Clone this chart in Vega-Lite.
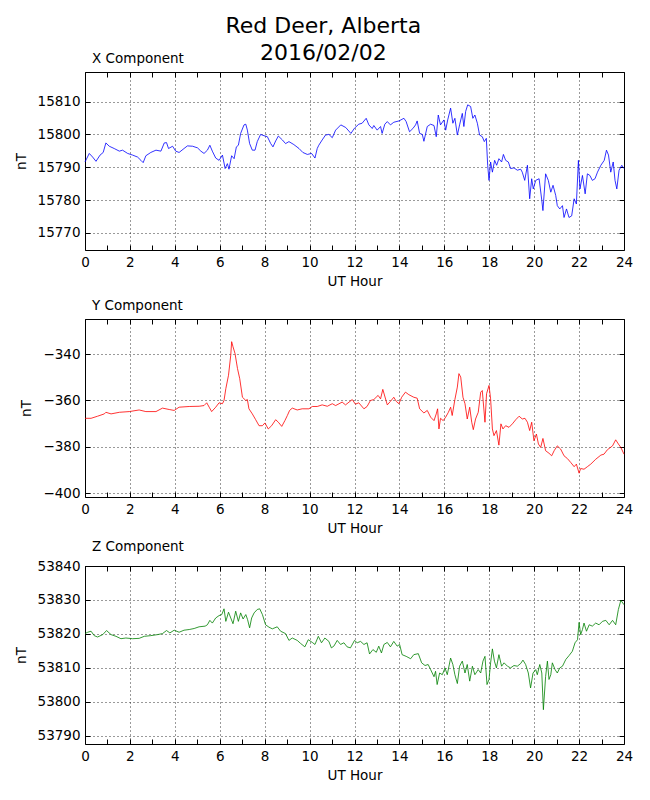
{
  "$schema": "https://vega.github.io/schema/vega-lite/v6.json",
  "padding": {"left": 13, "top": 14, "right": 10, "bottom": 5},
  "background": "white",
  "title": {
    "text": ["Red Deer, Alberta", "2016/02/02"],
    "fontSize": 22,
    "fontWeight": "normal",
    "lineHeight": 27,
    "anchor": "middle",
    "offset": -13
  },
  "datasets": {
    "bx": [
      {"h": 0, "v": 15791.6}, {"h": 0.19, "v": 15794.2}, {"h": 0.34, "v": 15793.1}, {"h": 0.49, "v": 15791.8},
      {"h": 0.67, "v": 15793.7}, {"h": 0.81, "v": 15794.5}, {"h": 0.93, "v": 15797.4}, {"h": 1.08, "v": 15796.4},
      {"h": 1.3, "v": 15795.7}, {"h": 1.53, "v": 15794.9}, {"h": 1.67, "v": 15795.2}, {"h": 1.9, "v": 15794.2},
      {"h": 2.12, "v": 15793.7}, {"h": 2.34, "v": 15793.1}, {"h": 2.49, "v": 15792.1}, {"h": 2.59, "v": 15791.4},
      {"h": 2.71, "v": 15793.5}, {"h": 2.93, "v": 15794.5}, {"h": 3.16, "v": 15795.2}, {"h": 3.38, "v": 15794.9},
      {"h": 3.53, "v": 15797.4}, {"h": 3.63, "v": 15797.5}, {"h": 3.72, "v": 15795.7}, {"h": 3.9, "v": 15796.4},
      {"h": 4.04, "v": 15794.9}, {"h": 4.19, "v": 15794.5}, {"h": 4.41, "v": 15795.7}, {"h": 4.56, "v": 15796.5},
      {"h": 4.79, "v": 15796.4}, {"h": 5.01, "v": 15795.9}, {"h": 5.16, "v": 15794.9}, {"h": 5.3, "v": 15794.2},
      {"h": 5.45, "v": 15795.2}, {"h": 5.56, "v": 15796.7}, {"h": 5.67, "v": 15794.9}, {"h": 5.82, "v": 15792.8},
      {"h": 5.97, "v": 15792.1}, {"h": 6.12, "v": 15793.7}, {"h": 6.24, "v": 15789.6}, {"h": 6.34, "v": 15791.1},
      {"h": 6.41, "v": 15789.4}, {"h": 6.53, "v": 15793.5}, {"h": 6.64, "v": 15792.6}, {"h": 6.74, "v": 15796.2},
      {"h": 6.83, "v": 15796.7}, {"h": 6.93, "v": 15800.3}, {"h": 7.08, "v": 15802.9}, {"h": 7.16, "v": 15803.1},
      {"h": 7.23, "v": 15801.3}, {"h": 7.33, "v": 15797.2}, {"h": 7.45, "v": 15795.2}, {"h": 7.57, "v": 15795.2},
      {"h": 7.67, "v": 15797.8}, {"h": 7.82, "v": 15800}, {"h": 7.97, "v": 15799.6}, {"h": 8.12, "v": 15799.3},
      {"h": 8.27, "v": 15797.2}, {"h": 8.37, "v": 15796.2}, {"h": 8.49, "v": 15798}, {"h": 8.61, "v": 15799.5},
      {"h": 8.79, "v": 15798.3}, {"h": 8.93, "v": 15797.2}, {"h": 9.08, "v": 15797.8}, {"h": 9.3, "v": 15796.9},
      {"h": 9.53, "v": 15795.7}, {"h": 9.7, "v": 15794.5}, {"h": 9.9, "v": 15793.9}, {"h": 10.09, "v": 15794.2},
      {"h": 10.24, "v": 15792.8}, {"h": 10.34, "v": 15795.7}, {"h": 10.41, "v": 15796.7}, {"h": 10.56, "v": 15798.3},
      {"h": 10.71, "v": 15799.8}, {"h": 10.86, "v": 15800}, {"h": 11.01, "v": 15799}, {"h": 11.16, "v": 15801.3},
      {"h": 11.39, "v": 15802.9}, {"h": 11.61, "v": 15802.1}, {"h": 11.84, "v": 15800.3}, {"h": 12.0, "v": 15801.9},
      {"h": 12.19, "v": 15803.1}, {"h": 12.34, "v": 15803.4}, {"h": 12.52, "v": 15804.9}, {"h": 12.64, "v": 15802.9},
      {"h": 12.79, "v": 15801.8}, {"h": 12.86, "v": 15802.7}, {"h": 13.01, "v": 15801.3}, {"h": 13.16, "v": 15802.4},
      {"h": 13.23, "v": 15800.3}, {"h": 13.35, "v": 15803.1}, {"h": 13.46, "v": 15803.9}, {"h": 13.6, "v": 15802.9},
      {"h": 13.75, "v": 15803.7}, {"h": 13.98, "v": 15804.1}, {"h": 14.2, "v": 15804.9}, {"h": 14.3, "v": 15803.9},
      {"h": 14.45, "v": 15800.8}, {"h": 14.6, "v": 15801.8}, {"h": 14.72, "v": 15802.9}, {"h": 14.79, "v": 15804.1},
      {"h": 14.9, "v": 15800.3}, {"h": 15.02, "v": 15800}, {"h": 15.09, "v": 15797.9}, {"h": 15.24, "v": 15802.4},
      {"h": 15.39, "v": 15803.1}, {"h": 15.54, "v": 15802.7}, {"h": 15.64, "v": 15799.3}, {"h": 15.73, "v": 15805.9},
      {"h": 15.83, "v": 15802.9}, {"h": 15.98, "v": 15804.4}, {"h": 16.06, "v": 15801.3}, {"h": 16.15, "v": 15804.4},
      {"h": 16.28, "v": 15808}, {"h": 16.38, "v": 15803.4}, {"h": 16.47, "v": 15804.9}, {"h": 16.58, "v": 15799.8},
      {"h": 16.68, "v": 15802.9}, {"h": 16.8, "v": 15806.4}, {"h": 16.87, "v": 15802.4}, {"h": 16.95, "v": 15807},
      {"h": 17.04, "v": 15809}, {"h": 17.17, "v": 15808.5}, {"h": 17.27, "v": 15804.9}, {"h": 17.36, "v": 15805.9},
      {"h": 17.47, "v": 15803.4}, {"h": 17.57, "v": 15799.8}, {"h": 17.69, "v": 15799.3}, {"h": 17.78, "v": 15797.8},
      {"h": 17.87, "v": 15798.8}, {"h": 17.93, "v": 15790.6}, {"h": 17.99, "v": 15786}, {"h": 18.06, "v": 15791.6},
      {"h": 18.14, "v": 15788.5}, {"h": 18.24, "v": 15792.1}, {"h": 18.33, "v": 15790.6}, {"h": 18.43, "v": 15792.6},
      {"h": 18.55, "v": 15791.6}, {"h": 18.63, "v": 15793.9}, {"h": 18.73, "v": 15792.1}, {"h": 18.85, "v": 15791.6},
      {"h": 18.95, "v": 15789.6}, {"h": 19.1, "v": 15789.8}, {"h": 19.25, "v": 15789.1}, {"h": 19.4, "v": 15789.4},
      {"h": 19.47, "v": 15788.5}, {"h": 19.58, "v": 15786}, {"h": 19.7, "v": 15790.6}, {"h": 19.8, "v": 15780.4},
      {"h": 19.89, "v": 15786.5}, {"h": 19.96, "v": 15783.4}, {"h": 20.07, "v": 15786}, {"h": 20.22, "v": 15786.5},
      {"h": 20.34, "v": 15779.9}, {"h": 20.39, "v": 15776.8}, {"h": 20.51, "v": 15788}, {"h": 20.63, "v": 15786},
      {"h": 20.74, "v": 15782.4}, {"h": 20.84, "v": 15784.5}, {"h": 20.96, "v": 15781.4}, {"h": 21.03, "v": 15778.3},
      {"h": 21.14, "v": 15777.3}, {"h": 21.26, "v": 15778.3}, {"h": 21.33, "v": 15774.7}, {"h": 21.44, "v": 15777.3},
      {"h": 21.55, "v": 15774.7}, {"h": 21.67, "v": 15775.2}, {"h": 21.78, "v": 15780.4}, {"h": 21.88, "v": 15778.8},
      {"h": 21.97, "v": 15792.1}, {"h": 22.04, "v": 15783.4}, {"h": 22.15, "v": 15787.5}, {"h": 22.27, "v": 15781.9},
      {"h": 22.37, "v": 15788}, {"h": 22.48, "v": 15787.5}, {"h": 22.59, "v": 15786}, {"h": 22.71, "v": 15786.5},
      {"h": 22.82, "v": 15788.5}, {"h": 22.97, "v": 15790.6}, {"h": 23.12, "v": 15792.1}, {"h": 23.22, "v": 15795.2},
      {"h": 23.31, "v": 15793.7}, {"h": 23.41, "v": 15788.5}, {"h": 23.52, "v": 15791.6}, {"h": 23.6, "v": 15786},
      {"h": 23.68, "v": 15783.4}, {"h": 23.78, "v": 15789.1}, {"h": 23.9, "v": 15790.6}, {"h": 24.0, "v": 15789.6}
    ],
    "by": [
      {"h": 0, "v": -367.7}, {"h": 0.27, "v": -367.7}, {"h": 0.56, "v": -366.8}, {"h": 0.86, "v": -365.8},
      {"h": 0.93, "v": -365.1}, {"h": 1.16, "v": -365.8}, {"h": 1.53, "v": -365.1}, {"h": 1.97, "v": -364.8},
      {"h": 2.41, "v": -364.1}, {"h": 2.71, "v": -364.8}, {"h": 3.16, "v": -364.8}, {"h": 3.45, "v": -363.3},
      {"h": 3.75, "v": -363.9}, {"h": 3.97, "v": -364.3}, {"h": 4.19, "v": -362.9}, {"h": 4.64, "v": -362.6},
      {"h": 5.08, "v": -362.5}, {"h": 5.3, "v": -362.2}, {"h": 5.42, "v": -361}, {"h": 5.53, "v": -362.9},
      {"h": 5.64, "v": -364.8}, {"h": 5.82, "v": -362.9}, {"h": 5.97, "v": -361}, {"h": 6.12, "v": -361.4},
      {"h": 6.19, "v": -360}, {"h": 6.27, "v": -354.9}, {"h": 6.39, "v": -349.1}, {"h": 6.49, "v": -340.4},
      {"h": 6.53, "v": -334.6}, {"h": 6.59, "v": -336.8}, {"h": 6.68, "v": -339.7}, {"h": 6.79, "v": -346.2},
      {"h": 6.89, "v": -350.6}, {"h": 7.01, "v": -358.6}, {"h": 7.16, "v": -360}, {"h": 7.23, "v": -359.6},
      {"h": 7.3, "v": -363.6}, {"h": 7.45, "v": -365.8}, {"h": 7.6, "v": -368.3}, {"h": 7.75, "v": -370.9},
      {"h": 7.9, "v": -370.9}, {"h": 8.01, "v": -369.7}, {"h": 8.16, "v": -372.3}, {"h": 8.31, "v": -370.9},
      {"h": 8.49, "v": -368.3}, {"h": 8.61, "v": -369.4}, {"h": 8.76, "v": -371.2}, {"h": 8.9, "v": -368.7},
      {"h": 9.01, "v": -366.5}, {"h": 9.11, "v": -364.3}, {"h": 9.23, "v": -363.3}, {"h": 9.45, "v": -364.1},
      {"h": 9.67, "v": -363.6}, {"h": 9.97, "v": -363.6}, {"h": 10.12, "v": -362.6}, {"h": 10.34, "v": -362.6},
      {"h": 10.56, "v": -361.9}, {"h": 10.79, "v": -362.5}, {"h": 11.01, "v": -361.4}, {"h": 11.16, "v": -362.2},
      {"h": 11.45, "v": -360.7}, {"h": 11.6, "v": -361.9}, {"h": 11.9, "v": -359.6}, {"h": 12.04, "v": -361.6},
      {"h": 12.19, "v": -361}, {"h": 12.42, "v": -363.6}, {"h": 12.56, "v": -362.6}, {"h": 12.71, "v": -360},
      {"h": 12.86, "v": -359.6}, {"h": 13.05, "v": -357.8}, {"h": 13.16, "v": -359.3}, {"h": 13.26, "v": -355.2},
      {"h": 13.46, "v": -361.9}, {"h": 13.6, "v": -360.4}, {"h": 13.75, "v": -358.6}, {"h": 13.86, "v": -360.4},
      {"h": 13.98, "v": -361.4}, {"h": 14.1, "v": -358.6}, {"h": 14.27, "v": -356.4}, {"h": 14.42, "v": -357.5},
      {"h": 14.64, "v": -358.6}, {"h": 14.79, "v": -359}, {"h": 14.9, "v": -363.6}, {"h": 15.09, "v": -365.4},
      {"h": 15.24, "v": -364.3}, {"h": 15.39, "v": -367.2}, {"h": 15.54, "v": -368.7}, {"h": 15.64, "v": -365.8},
      {"h": 15.7, "v": -363.6}, {"h": 15.76, "v": -372.3}, {"h": 15.83, "v": -367.7}, {"h": 15.95, "v": -368.7},
      {"h": 16.06, "v": -367.2}, {"h": 16.18, "v": -365.1}, {"h": 16.28, "v": -362.9}, {"h": 16.35, "v": -366.5},
      {"h": 16.47, "v": -359.6}, {"h": 16.58, "v": -354.2}, {"h": 16.65, "v": -348.4}, {"h": 16.73, "v": -349.9},
      {"h": 16.83, "v": -358.6}, {"h": 16.92, "v": -361.4}, {"h": 17.02, "v": -368}, {"h": 17.13, "v": -362.9},
      {"h": 17.22, "v": -369.4}, {"h": 17.29, "v": -372.6}, {"h": 17.39, "v": -368}, {"h": 17.51, "v": -365.1},
      {"h": 17.62, "v": -356.4}, {"h": 17.69, "v": -355.7}, {"h": 17.81, "v": -369.4}, {"h": 17.88, "v": -357.1},
      {"h": 17.99, "v": -353.5}, {"h": 18.06, "v": -359.3}, {"h": 18.14, "v": -372.3}, {"h": 18.21, "v": -375.2},
      {"h": 18.32, "v": -373}, {"h": 18.43, "v": -379.3}, {"h": 18.52, "v": -370.1}, {"h": 18.61, "v": -372.3},
      {"h": 18.73, "v": -370.9}, {"h": 18.88, "v": -371.6}, {"h": 19.03, "v": -370.1}, {"h": 19.18, "v": -368.3},
      {"h": 19.33, "v": -366.8}, {"h": 19.47, "v": -368}, {"h": 19.59, "v": -367.7}, {"h": 19.7, "v": -369.4},
      {"h": 19.8, "v": -373}, {"h": 19.89, "v": -369.4}, {"h": 19.99, "v": -377.4}, {"h": 20.1, "v": -374.5},
      {"h": 20.19, "v": -378.8}, {"h": 20.29, "v": -380.3}, {"h": 20.39, "v": -376.4}, {"h": 20.51, "v": -381.7},
      {"h": 20.66, "v": -382.8}, {"h": 20.78, "v": -383.9}, {"h": 20.89, "v": -381.7}, {"h": 21.03, "v": -379.6},
      {"h": 21.18, "v": -381}, {"h": 21.33, "v": -383.9}, {"h": 21.48, "v": -385.1}, {"h": 21.63, "v": -386.8},
      {"h": 21.78, "v": -388.6}, {"h": 21.88, "v": -387.5}, {"h": 22.0, "v": -391.4}, {"h": 22.07, "v": -389.4},
      {"h": 22.22, "v": -389.7}, {"h": 22.37, "v": -388.6}, {"h": 22.52, "v": -387.5}, {"h": 22.74, "v": -385.4},
      {"h": 22.97, "v": -383.6}, {"h": 23.11, "v": -383.2}, {"h": 23.26, "v": -381.3}, {"h": 23.49, "v": -379.6},
      {"h": 23.63, "v": -377}, {"h": 23.75, "v": -378.8}, {"h": 23.86, "v": -380.3}, {"h": 24.0, "v": -383.2}
    ],
    "bz": [
      {"h": 0, "v": 53820.1}, {"h": 0.12, "v": 53820.5}, {"h": 0.27, "v": 53820.8}, {"h": 0.41, "v": 53819.5},
      {"h": 0.56, "v": 53819.1}, {"h": 0.79, "v": 53819.8}, {"h": 0.96, "v": 53821}, {"h": 1.16, "v": 53819.8},
      {"h": 1.38, "v": 53819.3}, {"h": 1.6, "v": 53818.6}, {"h": 1.82, "v": 53818.8}, {"h": 2.12, "v": 53818.6},
      {"h": 2.41, "v": 53818.7}, {"h": 2.64, "v": 53819.3}, {"h": 2.93, "v": 53819.5}, {"h": 3.23, "v": 53819.8},
      {"h": 3.45, "v": 53820.1}, {"h": 3.63, "v": 53821}, {"h": 3.78, "v": 53820.3}, {"h": 3.97, "v": 53821.1},
      {"h": 4.19, "v": 53820.5}, {"h": 4.41, "v": 53821.1}, {"h": 4.64, "v": 53821.3}, {"h": 4.86, "v": 53821.6},
      {"h": 5.08, "v": 53822.1}, {"h": 5.35, "v": 53822.3}, {"h": 5.45, "v": 53822.7}, {"h": 5.56, "v": 53824},
      {"h": 5.67, "v": 53823.2}, {"h": 5.82, "v": 53824.7}, {"h": 5.97, "v": 53825.4}, {"h": 6.09, "v": 53825.7},
      {"h": 6.19, "v": 53827.4}, {"h": 6.27, "v": 53823.7}, {"h": 6.39, "v": 53826.4}, {"h": 6.49, "v": 53824.7},
      {"h": 6.59, "v": 53823}, {"h": 6.71, "v": 53826.7}, {"h": 6.83, "v": 53823.7}, {"h": 6.93, "v": 53826.2},
      {"h": 7.04, "v": 53824.4}, {"h": 7.16, "v": 53825.7}, {"h": 7.24, "v": 53824.2}, {"h": 7.33, "v": 53821.8},
      {"h": 7.42, "v": 53824.7}, {"h": 7.53, "v": 53826.2}, {"h": 7.67, "v": 53827.2}, {"h": 7.78, "v": 53827.4},
      {"h": 7.9, "v": 53825.7}, {"h": 8.04, "v": 53822.7}, {"h": 8.19, "v": 53822}, {"h": 8.34, "v": 53821.5},
      {"h": 8.56, "v": 53822.1}, {"h": 8.71, "v": 53820.8}, {"h": 8.93, "v": 53820.1}, {"h": 9.08, "v": 53818.1},
      {"h": 9.23, "v": 53818.8}, {"h": 9.45, "v": 53818.1}, {"h": 9.6, "v": 53817.2}, {"h": 9.79, "v": 53816.2},
      {"h": 9.94, "v": 53818.3}, {"h": 10.12, "v": 53817.5}, {"h": 10.24, "v": 53816.9}, {"h": 10.39, "v": 53819.3},
      {"h": 10.53, "v": 53817.4}, {"h": 10.68, "v": 53818.8}, {"h": 10.86, "v": 53817.8}, {"h": 10.97, "v": 53815.9},
      {"h": 11.08, "v": 53816.4}, {"h": 11.23, "v": 53818.1}, {"h": 11.38, "v": 53816.9}, {"h": 11.53, "v": 53817.4},
      {"h": 11.67, "v": 53816.2}, {"h": 11.82, "v": 53815.9}, {"h": 12.0, "v": 53818.1}, {"h": 12.12, "v": 53817.4},
      {"h": 12.27, "v": 53817.8}, {"h": 12.42, "v": 53816.9}, {"h": 12.56, "v": 53817.4}, {"h": 12.67, "v": 53814.1},
      {"h": 12.82, "v": 53815.4}, {"h": 12.97, "v": 53814.6}, {"h": 13.08, "v": 53816.4}, {"h": 13.2, "v": 53814.4},
      {"h": 13.31, "v": 53816.9}, {"h": 13.46, "v": 53817.5}, {"h": 13.6, "v": 53816.2}, {"h": 13.75, "v": 53817.8},
      {"h": 13.9, "v": 53816.4}, {"h": 14.01, "v": 53816.9}, {"h": 14.12, "v": 53813.9}, {"h": 14.3, "v": 53813.4},
      {"h": 14.5, "v": 53812.7}, {"h": 14.64, "v": 53813.9}, {"h": 14.84, "v": 53814.2}, {"h": 14.99, "v": 53811.5},
      {"h": 15.14, "v": 53810.7}, {"h": 15.28, "v": 53811}, {"h": 15.39, "v": 53809.5}, {"h": 15.54, "v": 53807.4},
      {"h": 15.61, "v": 53809}, {"h": 15.68, "v": 53805.1}, {"h": 15.79, "v": 53808.5}, {"h": 15.91, "v": 53808},
      {"h": 16.03, "v": 53810}, {"h": 16.13, "v": 53808}, {"h": 16.28, "v": 53812.9}, {"h": 16.38, "v": 53811},
      {"h": 16.47, "v": 53808}, {"h": 16.58, "v": 53805.4}, {"h": 16.68, "v": 53810.5}, {"h": 16.8, "v": 53812},
      {"h": 16.92, "v": 53808.5}, {"h": 17.02, "v": 53811}, {"h": 17.13, "v": 53806.1}, {"h": 17.25, "v": 53810.5},
      {"h": 17.36, "v": 53808}, {"h": 17.51, "v": 53809.5}, {"h": 17.62, "v": 53808.5}, {"h": 17.72, "v": 53812},
      {"h": 17.81, "v": 53813.4}, {"h": 17.9, "v": 53805.1}, {"h": 17.99, "v": 53806.6}, {"h": 18.06, "v": 53811.5},
      {"h": 18.14, "v": 53815.6}, {"h": 18.23, "v": 53812}, {"h": 18.32, "v": 53810}, {"h": 18.43, "v": 53813.9},
      {"h": 18.55, "v": 53810.5}, {"h": 18.66, "v": 53811.5}, {"h": 18.81, "v": 53810.5}, {"h": 18.95, "v": 53810},
      {"h": 19.1, "v": 53810.7}, {"h": 19.25, "v": 53810.5}, {"h": 19.4, "v": 53811.3}, {"h": 19.5, "v": 53812.3},
      {"h": 19.62, "v": 53811}, {"h": 19.74, "v": 53808.5}, {"h": 19.84, "v": 53804.1}, {"h": 19.95, "v": 53808.5},
      {"h": 20.07, "v": 53809.5}, {"h": 20.14, "v": 53808}, {"h": 20.25, "v": 53811}, {"h": 20.34, "v": 53808.5},
      {"h": 20.41, "v": 53797.7}, {"h": 20.51, "v": 53807.5}, {"h": 20.59, "v": 53812}, {"h": 20.66, "v": 53806.6},
      {"h": 20.74, "v": 53808}, {"h": 20.81, "v": 53811.5}, {"h": 20.93, "v": 53809.5}, {"h": 21.03, "v": 53808.5},
      {"h": 21.14, "v": 53810}, {"h": 21.26, "v": 53810.5}, {"h": 21.41, "v": 53812.5}, {"h": 21.55, "v": 53813.6},
      {"h": 21.7, "v": 53814.9}, {"h": 21.82, "v": 53817.4}, {"h": 21.93, "v": 53818.3}, {"h": 22.0, "v": 53823.4},
      {"h": 22.07, "v": 53819.8}, {"h": 22.15, "v": 53821.3}, {"h": 22.22, "v": 53823.2}, {"h": 22.33, "v": 53820.8},
      {"h": 22.45, "v": 53822.7}, {"h": 22.59, "v": 53822.3}, {"h": 22.74, "v": 53823.2}, {"h": 22.89, "v": 53822.7},
      {"h": 23.04, "v": 53823.7}, {"h": 23.19, "v": 53824}, {"h": 23.34, "v": 53822.7}, {"h": 23.49, "v": 53824},
      {"h": 23.63, "v": 53822.7}, {"h": 23.75, "v": 53827.2}, {"h": 23.86, "v": 53829.9}, {"h": 24.0, "v": 53828.6}
    ]
  },
  "vconcat": [
    {
      "title": {"text": "X Component", "anchor": "start", "frame": "group", "fontSize": 13.5, "fontWeight": "normal", "dx": 7, "offset": 6},
      "width": 539,
      "height": 178,
      "data": {"name": "bx"},
      "layer": [
        {
          "mark": {"type": "line", "color": "#0000ff", "strokeWidth": 0.8},
          "encoding": {
            "x": {"field": "h", "type": "quantitative", "scale": {"domain": [0, 24], "nice": false},
              "axis": {"title": "UT Hour", "values": [0,1,2,3,4,5,6,7,8,9,10,11,12,13,14,15,16,17,18,19,20,21,22,23,24],
                "labelExpr": "datum.value % 2 == 0 ? datum.label : ''",
                "gridOpacity": {"condition": {"test": "datum.value % 2 == 1", "value": 0}, "value": 1}}},
            "y": {"field": "v", "type": "quantitative", "scale": {"domain": [15764.8, 15819], "nice": false, "zero": false},
              "axis": {"title": "nT", "values": [15770, 15780, 15790, 15800, 15810], "format": "d"}}
          }
        },
        {
          "mark": {"type": "line", "strokeOpacity": 0},
          "encoding": {
            "x": {"field": "h", "type": "quantitative", "scale": {"domain": [0, 24], "nice": false},
              "axis": {"orient": "top", "title": null, "labels": false, "grid": false, "values": [0,1,2,3,4,5,6,7,8,9,10,11,12,13,14,15,16,17,18,19,20,21,22,23,24]}},
            "y": {"field": "v", "type": "quantitative", "scale": {"domain": [15764.8, 15819], "nice": false, "zero": false},
              "axis": {"orient": "right", "title": null, "labels": false, "grid": false, "values": [15770, 15780, 15790, 15800, 15810]}}
          }
        }
      ],
      "resolve": {"axis": {"x": "independent", "y": "independent"}}
    },
    {
      "title": {"text": "Y Component", "anchor": "start", "frame": "group", "fontSize": 13.5, "fontWeight": "normal", "dx": 7, "offset": 6},
      "width": 539,
      "height": 178,
      "data": {"name": "by"},
      "layer": [
        {
          "mark": {"type": "line", "color": "#ff0000", "strokeWidth": 0.8},
          "encoding": {
            "x": {"field": "h", "type": "quantitative", "scale": {"domain": [0, 24], "nice": false},
              "axis": {"title": "UT Hour", "values": [0,1,2,3,4,5,6,7,8,9,10,11,12,13,14,15,16,17,18,19,20,21,22,23,24],
                "labelExpr": "datum.value % 2 == 0 ? datum.label : ''",
                "gridOpacity": {"condition": {"test": "datum.value % 2 == 1", "value": 0}, "value": 1}}},
            "y": {"field": "v", "type": "quantitative", "scale": {"domain": [-401.7, -324.8], "nice": false, "zero": false},
              "axis": {"title": "nT", "values": [-400, -380, -360, -340], "format": "d"}}
          }
        },
        {
          "mark": {"type": "line", "strokeOpacity": 0},
          "encoding": {
            "x": {"field": "h", "type": "quantitative", "scale": {"domain": [0, 24], "nice": false},
              "axis": {"orient": "top", "title": null, "labels": false, "grid": false, "values": [0,1,2,3,4,5,6,7,8,9,10,11,12,13,14,15,16,17,18,19,20,21,22,23,24]}},
            "y": {"field": "v", "type": "quantitative", "scale": {"domain": [-401.7, -324.8], "nice": false, "zero": false},
              "axis": {"orient": "right", "title": null, "labels": false, "grid": false, "values": [-400, -380, -360, -340]}}
          }
        }
      ],
      "resolve": {"axis": {"x": "independent", "y": "independent"}}
    },
    {
      "title": {"text": "Z Component", "anchor": "start", "frame": "group", "fontSize": 13.5, "fontWeight": "normal", "dx": 7, "offset": 6},
      "width": 539,
      "height": 178,
      "data": {"name": "bz"},
      "layer": [
        {
          "mark": {"type": "line", "color": "#008000", "strokeWidth": 0.8},
          "encoding": {
            "x": {"field": "h", "type": "quantitative", "scale": {"domain": [0, 24], "nice": false},
              "axis": {"title": "UT Hour", "values": [0,1,2,3,4,5,6,7,8,9,10,11,12,13,14,15,16,17,18,19,20,21,22,23,24],
                "labelExpr": "datum.value % 2 == 0 ? datum.label : ''",
                "gridOpacity": {"condition": {"test": "datum.value % 2 == 1", "value": 0}, "value": 1}}},
            "y": {"field": "v", "type": "quantitative", "scale": {"domain": [53787.6, 53840], "nice": false, "zero": false},
              "axis": {"title": "nT", "values": [53790, 53800, 53810, 53820, 53830, 53840], "format": "d"}}
          }
        },
        {
          "mark": {"type": "line", "strokeOpacity": 0},
          "encoding": {
            "x": {"field": "h", "type": "quantitative", "scale": {"domain": [0, 24], "nice": false},
              "axis": {"orient": "top", "title": null, "labels": false, "grid": false, "values": [0,1,2,3,4,5,6,7,8,9,10,11,12,13,14,15,16,17,18,19,20,21,22,23,24]}},
            "y": {"field": "v", "type": "quantitative", "scale": {"domain": [53787.6, 53840], "nice": false, "zero": false},
              "axis": {"orient": "right", "title": null, "labels": false, "grid": false, "values": [53790, 53800, 53810, 53820, 53830, 53840]}}
          }
        }
      ],
      "resolve": {"axis": {"x": "independent", "y": "independent"}}
    }
  ],
  "spacing": 69,
  "bounds": "flush",
  "config": {
    "font": "DejaVu Sans",
    "view": {"stroke": "black", "strokeWidth": 1},
    "title": {"color": "black", "fontWeight": "normal"},
    "axis": {
      "domain": false,
      "grid": true,
      "gridColor": "black",
      "gridDash": [1, 3],
      "gridWidth": 0.8,
      "gridOpacity": 1,
      "ticks": true,
      "tickColor": "black",
      "tickSize": -5,
      "tickWidth": 1,
      "labelFontSize": 13.5,
      "labelColor": "black",
      "labelPadding": 10,
      "labelFlush": false,
      "labelOverlap": false,
      "titleFontSize": 13.5,
      "titleFontWeight": "normal",
      "titleColor": "black"
    },
    "axisX": {"titlePadding": 6},
    "axisY": {"titlePadding": 9}
  },
  "resolve": {"scale": {"x": "independent", "y": "independent"}}
}
